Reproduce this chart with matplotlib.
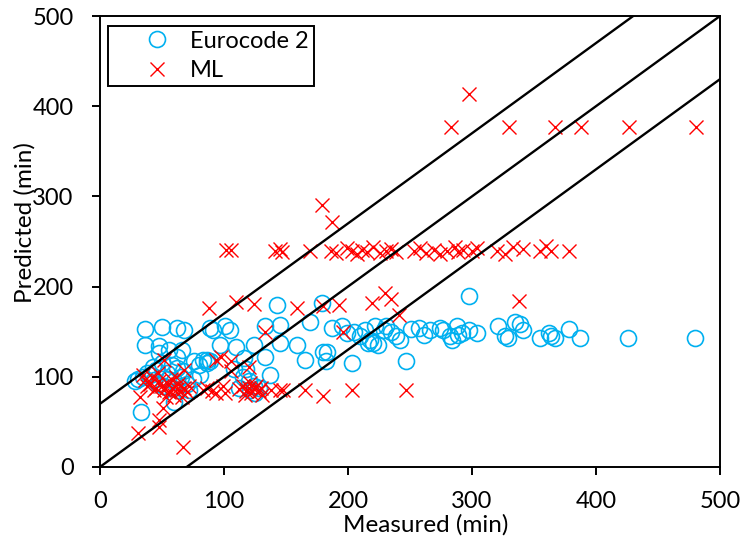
import matplotlib
matplotlib.use("Agg")
import matplotlib.pyplot as plt
from matplotlib.legend_handler import HandlerLine2D

plt.rcParams['font.family'] = ['Lato', 'DejaVu Sans']

# Eurocode 2 predictions: measured vs predicted fire resistance (min)
ec2_measured = [
    33, 31, 28, 36, 50, 62, 68, 36, 48, 56, 66, 62, 48, 43, 58, 67, 83, 86, 89, 81,
    40, 54, 60, 91, 38, 45, 50, 55, 60, 65, 52, 58, 63, 70, 75, 72, 62, 76, 80, 44,
    47, 35,
    89, 101, 105, 133, 145, 169, 97, 110, 124, 145, 159, 133, 116, 86, 165, 108, 118, 137,
    180, 182, 121, 124, 143, 179, 183, 187, 195, 199, 120, 128, 115, 112, 125,
    205, 210, 214, 218, 222, 224, 229, 231, 235, 239, 242, 247, 251, 257, 261, 266, 274,
    277, 282, 284, 288, 289, 292, 298, 298, 304, 321, 327, 329, 335, 339, 341, 355, 362,
    364, 367, 378, 387, 426, 480, 203, 216, 220,
]
ec2_predicted = [
    61, 98, 95, 153, 155, 154, 152, 135, 134, 130, 130, 122, 126, 111, 113, 106, 119, 115, 117, 102,
    102, 104, 72, 152, 104, 108, 115, 98, 95, 100, 90, 88, 85, 92, 97, 85, 110, 118, 113, 96,
    92, 100,
    154, 156, 152, 156, 157, 161, 135, 133, 135, 137, 135, 122, 121, 119, 119, 109, 109, 102,
    128, 117, 85, 90, 180, 182, 128, 154, 156, 148, 95, 88, 100, 88, 82,
    150, 145, 152, 141, 156, 135, 152, 156, 150, 145, 141, 118, 153, 154, 146, 152, 154,
    152, 145, 141, 156, 146, 148, 190, 152, 148, 156, 145, 143, 161, 159, 152, 143, 148,
    145, 143, 153, 143, 143, 143, 115, 138, 137,
]

# Machine-learning predictions
ml_measured = [
    298, 283, 330, 367, 388, 427, 481,
    102, 106, 141, 145, 147, 169, 186, 190, 199, 203, 207, 211, 215, 220, 226, 231, 235,
    239, 253, 258, 263, 269, 274, 280, 286, 289, 293, 300, 304, 320, 327, 333, 341, 355,
    360, 364, 378,
    179, 187,
    88, 110, 124, 159, 180, 193, 219, 230, 235, 241, 338, 196, 133,
    52, 68, 94, 98, 106, 106, 120, 35,
    148, 165, 180, 203, 247, 32, 51, 31, 48, 48, 67,
    36, 40, 42, 45, 48, 50, 52, 55, 56, 58, 60, 62, 63, 65, 66, 68, 70, 72, 57, 47,
    38, 44, 61, 53, 83, 86, 90, 94, 101, 112, 115, 118, 120, 122, 124, 126, 128, 130,
    117, 121, 138, 145, 131, 99,
]
ml_predicted = [
    414, 377, 377, 377, 377, 377, 377,
    241, 241, 239, 242, 238, 239, 240, 237, 243, 239, 236, 241, 238, 244, 237, 240, 242,
    238, 240, 243, 237, 241, 236, 240, 244, 238, 241, 239, 243, 240, 236, 244, 242, 239,
    245, 240, 240,
    291, 272,
    176, 183, 181, 176, 178, 180, 182, 193, 186, 169, 184, 150, 150,
    119, 108, 119, 122, 117, 106, 111, 102,
    85, 85, 79, 85, 85, 78, 65, 38, 52, 44, 22,
    96, 92, 100, 88, 95, 90, 85, 92, 83, 88, 80, 86, 92, 84, 78, 88, 83, 90, 97, 104,
    90, 85, 100, 78, 85, 88, 84, 82, 82, 86, 90, 84, 88, 82, 86, 90, 84, 88,
    80, 93, 85, 85, 80, 90,
]

# Reference lines: perfect agreement and a +/-70 min band
ref_x = [0, 500]
band_offsets = [70, 0, -70]

FS = 17

fig = plt.figure(figsize=(7.4, 5.39), dpi=100)
ax = fig.add_axes([0.135, 0.1336, 0.838, 0.8367])

ax.plot(ec2_measured, ec2_predicted, linestyle='none', marker='o', markersize=11.5,
        markerfacecolor='none', markeredgecolor='#00B0F0', markeredgewidth=1.2,
        label='Eurocode 2', zorder=3)
ax.plot(ml_measured, ml_predicted, linestyle='none', marker='x', markersize=9.5,
        color='#FF0000', markeredgewidth=1.0, label='ML', zorder=4)

for off in band_offsets:
    ax.plot(ref_x, [x + off for x in ref_x], color='black', linewidth=1.7, zorder=5)

ax.set_xlim(0, 500)
ax.set_ylim(0, 500)
ax.set_xticks([0, 100, 200, 300, 400, 500])
ax.set_yticks([0, 100, 200, 300, 400, 500])
ax.tick_params(axis='both', direction='out', length=6, width=1.4, labelsize=FS,
               colors='black')
ax.tick_params(axis='y', pad=13)
ax.tick_params(axis='x', pad=11)
for sp in ax.spines.values():
    sp.set_linewidth(1.4)
    sp.set_color('black')

ax.set_xlabel('Measured (min)', fontsize=17.5)
ax.set_ylabel('Predicted (min)', fontsize=17.5)
ax.xaxis.set_label_coords(0.526, -0.104)
ax.yaxis.set_label_coords(-0.104, 0.543)

handler = HandlerLine2D(xpad=1.06)
leg = ax.legend(loc='upper left', bbox_to_anchor=(0.0129, 0.978), fontsize=FS,
                frameon=True, fancybox=False, edgecolor='black', framealpha=1,
                borderpad=0.2, handletextpad=0.57, borderaxespad=0.0, labelspacing=0.35,
                handlelength=2.72, handler_map={matplotlib.lines.Line2D: handler})
leg.get_frame().set_linewidth(1.4)

fig.savefig('out.png', dpi=100)
